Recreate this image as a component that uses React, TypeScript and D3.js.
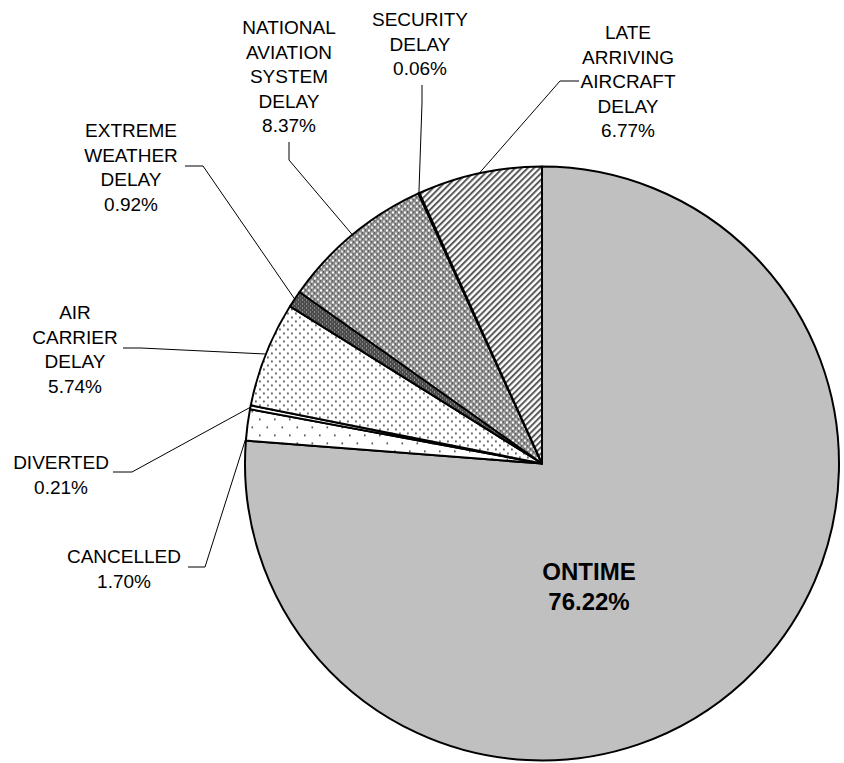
import * as d3 from 'd3';

// flight outcome shares, percent of flights
const categories = [
  'ONTIME',
  'CANCELLED',
  'DIVERTED',
  'AIR CARRIER DELAY',
  'EXTREME WEATHER DELAY',
  'NATIONAL AVIATION SYSTEM DELAY',
  'SECURITY DELAY',
  'LATE ARRIVING AIRCRAFT DELAY',
];
const shares = [76.22, 1.7, 0.21, 5.74, 0.92, 8.37, 0.06, 6.77];

const fills = [
  '#c0c0c0',
  'url(#sparseDots)',
  '#ffffff',
  'url(#fineDots)',
  'url(#darkCross)',
  'url(#cross)',
  '#ffffff',
  'url(#diag)',
];

// hand placed labels, as in the original chart (null = label drawn inside)
// x: text centre, y: first baseline, leader: elbow points, at: where on the slice the leader lands
const labelLayout: ({ x: number; y: number; leader: [number, number][]; at: number } | null)[] = [
  null,
  { x: 124, y: 563, leader: [[188, 567], [205, 567]], at: 0.1 },
  { x: 61, y: 469, leader: [[113, 472], [132, 472]], at: 0.5 },
  { x: 75, y: 319, leader: [[123, 348], [141, 348]], at: 0.5 },
  { x: 131, y: 137, leader: [[185, 166], [203, 166]], at: 0.5 },
  { x: 289, y: 34, leader: [[289, 142], [289, 160]], at: 0.5 },
  { x: 420, y: 26, leader: [[422, 85], [422, 103]], at: 0.5 },
  { x: 628, y: 39, leader: [[579, 81], [560, 81]], at: 0.5 },
];

const W = 844;
const H = 763;
const cx = 542;
const cy = 463.5;
const r = 297;
const lineH = 24.6;
const font = '"Liberation Sans", Arial, sans-serif';

export default function App() {
  const pie = d3
    .pie<number>()
    .sort(null)
    .value((d) => d);
  const arcs = pie(shares);
  const arc = d3.arc<d3.PieArcDatum<number>>().innerRadius(0).outerRadius(r);

  const edge = (a: number): [number, number] => [cx + r * Math.sin(a), cy - r * Math.cos(a)];
  const pct = (v: number) => v.toFixed(2) + '%';
  const line = d3.line();

  return (
    <svg
      width={W}
      height={H}
      style={{ position: 'absolute', left: 0, top: 0, display: 'block', background: '#fff' }}
    >
      <defs>
        <pattern id="sparseDots" width={15} height={16} patternUnits="userSpaceOnUse">
          <rect width={15} height={16} fill="#fff" />
          <rect x={2} y={3} width={1.6} height={1.6} fill="#333" />
          <rect x={9.5} y={11} width={1.6} height={1.6} fill="#333" />
        </pattern>
        <pattern id="fineDots" width={8} height={8} patternUnits="userSpaceOnUse">
          <rect width={8} height={8} fill="#fff" />
          <rect x={1} y={1} width={1.8} height={1.8} fill="#555" />
          <rect x={5} y={5} width={1.8} height={1.8} fill="#555" />
        </pattern>
        <pattern id="cross" width={6} height={6} patternUnits="userSpaceOnUse">
          <rect width={6} height={6} fill="#8c8c8c" />
          <rect x={0} y={0} width={2} height={2} fill="#fff" />
          <rect x={3} y={3} width={2} height={2} fill="#e6e6e6" />
          <rect x={3} y={0} width={1} height={1} fill="#333" />
          <rect x={0} y={3} width={1} height={1} fill="#333" />
        </pattern>
        <pattern id="darkCross" width={4} height={4} patternUnits="userSpaceOnUse">
          <rect width={4} height={4} fill="#4a4a4a" />
          <rect x={0} y={0} width={1} height={1} fill="#cfcfcf" />
          <rect x={2} y={2} width={1} height={1} fill="#999" />
        </pattern>
        <pattern
          id="diag"
          width={4.4}
          height={4.4}
          patternUnits="userSpaceOnUse"
          patternTransform="rotate(45)"
        >
          <rect width={4.4} height={4.4} fill="#fff" />
          <rect x={0} y={0} width={2} height={4.4} fill="#5a5a5a" />
        </pattern>
      </defs>

      <g>
        {arcs.map((a, i) => (
          <path
            key={categories[i]}
            d={arc(a) ?? ''}
            transform={`translate(${cx},${cy})`}
            fill={fills[i]}
            stroke="#000"
            strokeWidth={2}
            strokeLinejoin="round"
          />
        ))}
      </g>

      <g fill="none" stroke="#000" strokeWidth={1}>
        {arcs.map((a, i) => {
          const lay = labelLayout[i];
          if (!lay) return null;
          const ang = a.startAngle + (a.endAngle - a.startAngle) * lay.at;
          const pts = [...lay.leader, edge(ang)];
          return <path key={categories[i]} d={line(pts) ?? ''} />;
        })}
      </g>

      <g fontFamily={font} fontSize={19} fill="#000" textAnchor="middle">
        {arcs.map((a, i) => {
          const lay = labelLayout[i];
          if (!lay) return null;
          const rows = [...categories[i].split(' '), pct(a.data)];
          return (
            <text key={categories[i]} x={lay.x} y={lay.y}>
              {rows.map((t, j) => (
                <tspan key={j} x={lay.x} y={lay.y + j * lineH}>
                  {t}
                </tspan>
              ))}
            </text>
          );
        })}
      </g>

      <g fontFamily={font} fontSize={24} fontWeight="bold" fill="#000" textAnchor="middle">
        <text x={589} y={580}>
          {categories[0]}
        </text>
        <text x={589} y={610}>
          {pct(shares[0])}
        </text>
      </g>
    </svg>
  );
}
